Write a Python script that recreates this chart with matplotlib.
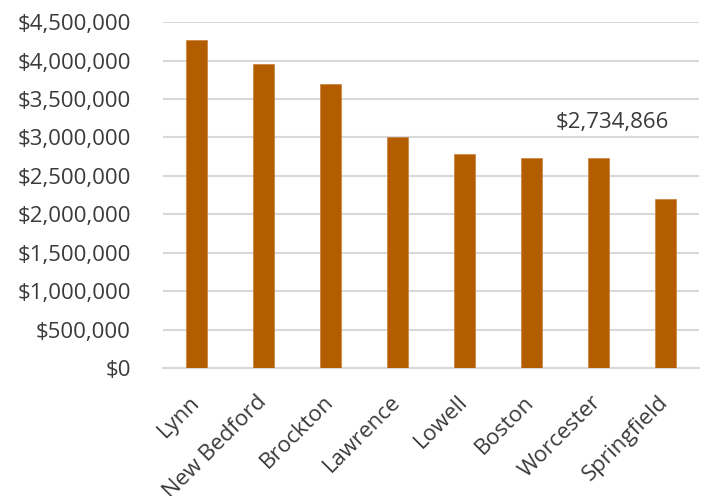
import matplotlib
matplotlib.use('Agg')
from matplotlib import pyplot as plt
from matplotlib.ticker import FuncFormatter, MultipleLocator

plt.rcParams['font.family'] = ['Open Sans', 'DejaVu Sans']

cities = ['Lynn', 'New Bedford', 'Brockton', 'Lawrence', 'Lowell',
          'Boston', 'Worcester', 'Springfield']
amounts = [4268000, 3952000, 3701000, 3004000, 2783000,
           2735000, 2734866, 2203000]
labeled = 'Worcester'

bar_color = '#B35D00'
text_color = '#3A3A3A'
grid_color = '#D9D9D9'

fig = plt.figure(figsize=(7.05, 4.96), dpi=100)
ax = fig.add_axes([0.231, 0.2575, 0.760, 0.698])

x = range(len(cities))
ax.bar(x, amounts, width=0.31, color=bar_color, edgecolor='#C8803A',
       linewidth=0.5, zorder=3)

ax.set_xlim(-0.5, len(cities) - 0.5)
ax.set_ylim(0, 4500000)
ax.yaxis.set_major_locator(MultipleLocator(500000))
ax.yaxis.set_major_formatter(FuncFormatter(lambda v, p: '${:,.0f}'.format(v)))
ax.grid(axis='y', color=grid_color, linewidth=1.5, zorder=0)

for s in ['top', 'right', 'left']:
    ax.spines[s].set_visible(False)
ax.spines['bottom'].set_color(grid_color)
ax.spines['bottom'].set_linewidth(1.5)

ax.tick_params(axis='y', length=0, pad=23, labelsize=16, labelcolor=text_color)
ax.tick_params(axis='x', length=0, pad=22, labelsize=16, labelcolor=text_color)
ax.set_xticks(list(x))
ax.set_xticklabels(cities, rotation=45, ha='right', va='center',
                   rotation_mode='anchor')

i = cities.index(labeled)
ax.annotate('${:,}'.format(amounts[i]), xy=(i, amounts[i]),
            xytext=(14, 35), textcoords='offset pixels',
            ha='center', va='center', fontsize=16, color=text_color)

fig.savefig('out.png', dpi=100)
